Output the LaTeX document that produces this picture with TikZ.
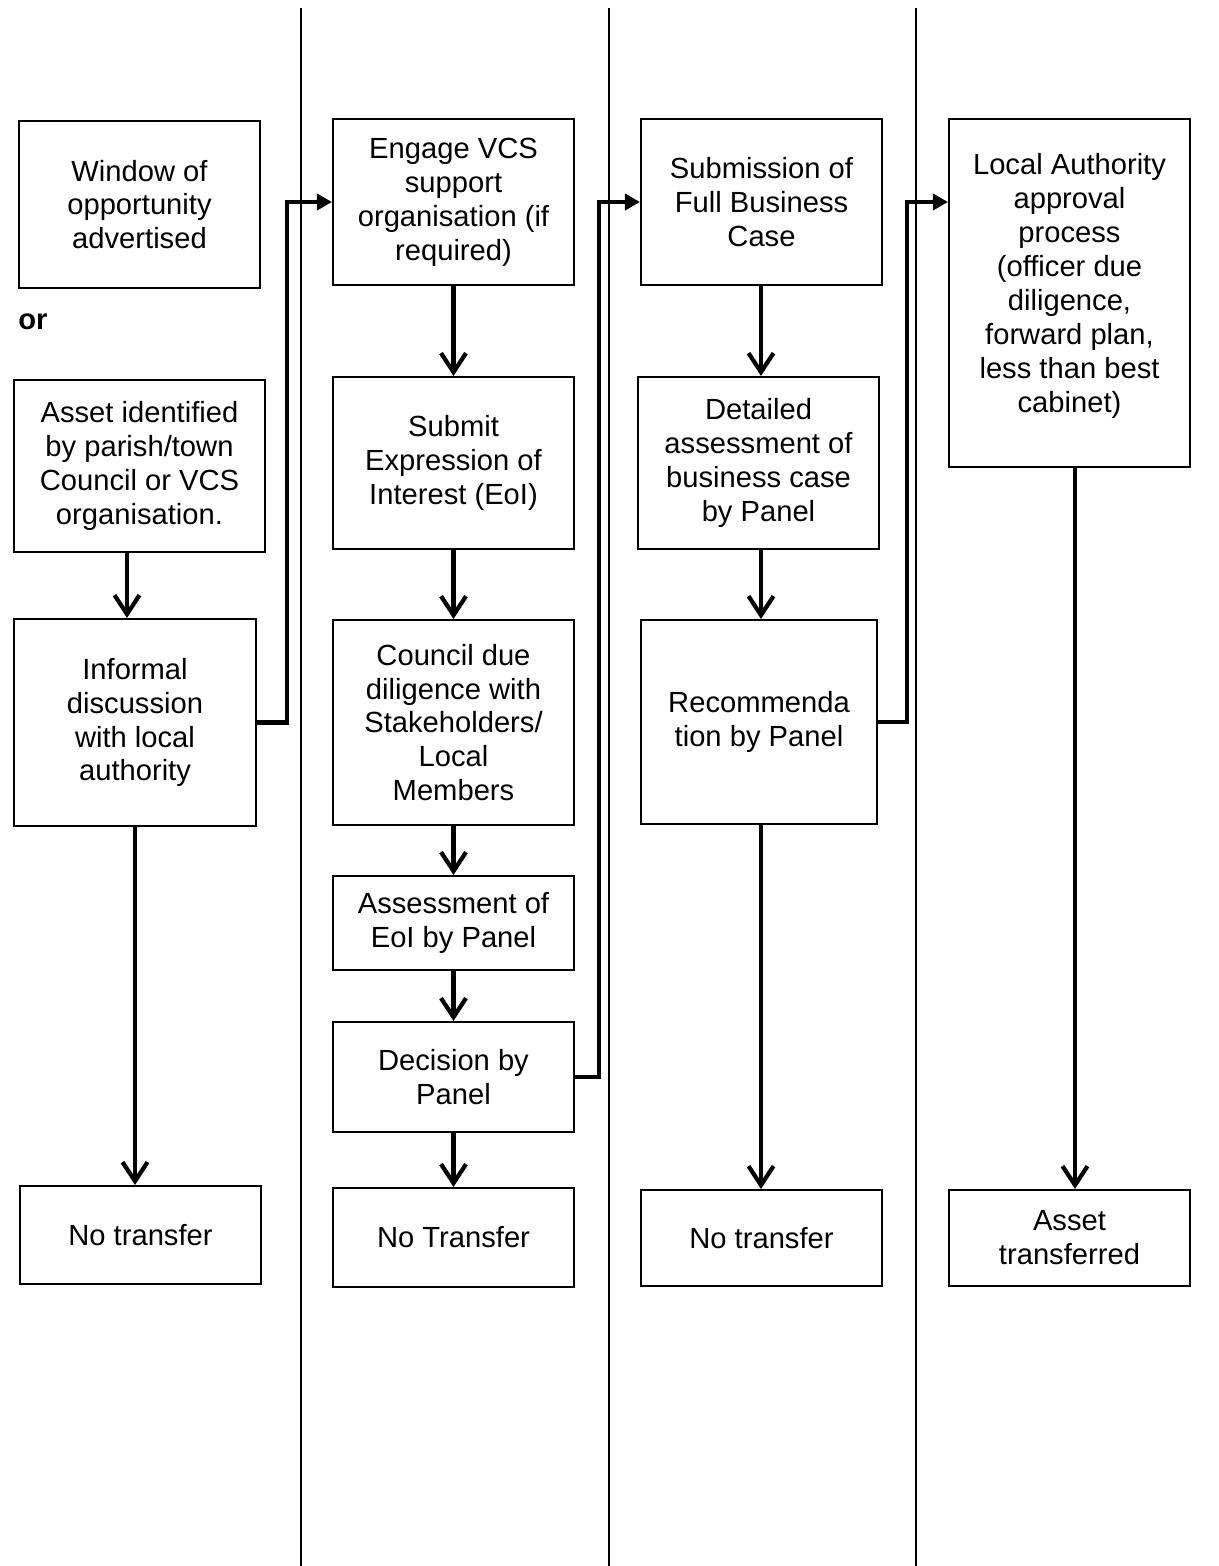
\documentclass[tikz,border=0pt]{standalone}
\usepackage{fontspec}
\setmainfont{Liberation Sans}
\usetikzlibrary{arrows.meta}
\tikzset{
  box/.style={draw, line width=1.2pt, align=center, inner sep=2pt,
    font=\fontsize{16.6}{19.3}\selectfont},
  varrow/.style={line width=2.4pt, -{Straight Barb[length=0.38cm,width=0.5cm,line width=2.4pt]}},
  earrow/.style={line width=2.4pt, line join=miter, -{Triangle[length=0.3cm,width=0.32cm]}},
  divider/.style={line width=1.1pt}
}
\begin{document}
\begin{tikzpicture}[x=0.02cm,y=-0.02cm]
\useasboundingbox (0,0) rectangle (1218,1566);
% dividers
\draw[divider] (301,8) -- (301,1566);
\draw[divider] (609,8) -- (609,1566);
\draw[divider] (916,8) -- (916,1566);
% column 1
\node[box, minimum width=241*0.02cm, minimum height=167*0.02cm] (w1) at (139.5,204.5) {Window of\\opportunity\\advertised};
\node[anchor=west, font=\fontsize{16.6}{19.3}\selectfont\bfseries, inner sep=0pt] (or) at (18,322) {or};
\node[box, minimum width=251*0.02cm, minimum height=172*0.02cm] (a1) at (139.5,466) {Asset identified\\by parish/town\\Council or VCS\\organisation.};
\node[box, minimum width=242*0.02cm, minimum height=207*0.02cm] (i1) at (135,722.5) {Informal\\discussion\\with local\\authority};
\node[box, minimum width=241*0.02cm, minimum height=98*0.02cm] (n1) at (140.5,1235) {No transfer};
% column 2
\node[box, minimum width=241*0.02cm, minimum height=166*0.02cm] (e2) at (453.5,202) {Engage VCS\\support\\organisation (if\\required)};
\node[box, minimum width=241*0.02cm, minimum height=172*0.02cm] (s2) at (453.5,463) {Submit\\Expression of\\Interest (EoI)};
\node[box, minimum width=241*0.02cm, minimum height=205*0.02cm] (c2) at (453.5,722.5) {Council due\\diligence with\\Stakeholders/\\Local\\Members};
\node[box, minimum width=241*0.02cm, minimum height=94*0.02cm] (as2) at (453.5,923) {Assessment of\\EoI by Panel};
\node[box, minimum width=241*0.02cm, minimum height=110*0.02cm] (d2) at (453.5,1077) {Decision by\\Panel};
\node[box, minimum width=241*0.02cm, minimum height=99*0.02cm] (n2) at (453.5,1237.5) {No Transfer};
% column 3
\node[box, minimum width=241*0.02cm, minimum height=166*0.02cm] (f3) at (761.5,202) {Submission of\\Full Business\\Case};
\node[box, minimum width=241*0.02cm, minimum height=172*0.02cm] (dt3) at (758.5,463) {Detailed\\assessment of\\business case\\by Panel};
\node[box, minimum width=236*0.02cm, minimum height=204*0.02cm] (r3) at (759,722) {Recommenda\\tion by Panel};
\node[box, minimum width=241*0.02cm, minimum height=96*0.02cm] (n3) at (761.5,1238) {No transfer};
% column 4
\node[box, minimum width=241*0.02cm, minimum height=348*0.02cm] (la4) at (1069.5,293) {Local Authority\\approval\\process\\(officer due\\diligence,\\forward plan,\\less than best\\cabinet)\\[-8pt]\mbox{}};
\node[box, minimum width=241*0.02cm, minimum height=96*0.02cm] (at4) at (1069.5,1238) {Asset\\transferred};
% x positions of vertical arrows
\coordinate (x1a) at (127,0);
\coordinate (x1b) at (135,0);
\coordinate (x3) at (761,0);
\coordinate (x4) at (1075,0);
% vertical arrows
\draw[varrow] (x1a |- a1.south) -- (x1a |- i1.north);
\draw[varrow] (x1b |- i1.south) -- (x1b |- n1.north);
\draw[varrow] (e2.south) -- (s2.north);
\draw[varrow] (s2.south) -- (c2.north);
\draw[varrow] (c2.south) -- (as2.north);
\draw[varrow] (as2.south) -- (d2.north);
\draw[varrow] (d2.south) -- (n2.north);
\draw[varrow] (x3 |- f3.south) -- (x3 |- dt3.north);
\draw[varrow] (x3 |- dt3.south) -- (x3 |- r3.north);
\draw[varrow] (x3 |- r3.south) -- (x3 |- n3.north);
\draw[varrow] (x4 |- la4.south) -- (x4 |- at4.north);
% elbow arrows
\draw[earrow] (i1.east) -- ++(30,0) |- (e2.west);
\draw[earrow] (d2.east) -- ++(24,0) |- (f3.west);
\draw[earrow] (r3.east) -- ++(29,0) |- (la4.west |- f3.west);
\end{tikzpicture}
\end{document}
